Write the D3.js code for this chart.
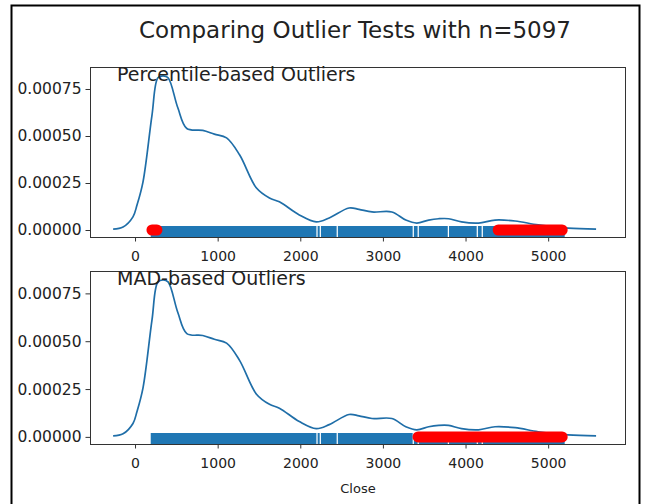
<!DOCTYPE html>
<html lang="en">
  <head>
    <meta charset="UTF-8" />
    <title>Comparing Outlier Tests</title>
    <script src="https://d3js.org/d3.v7.min.js"></script>
    <style>
      body { margin: 0; background: #fff; }
      text { font-family: "DejaVu Sans", sans-serif; fill: #222; }
    </style>
  </head>
  <body>
    <div id="chart"></div>
    <script>
      // KDE curve of "Close"
      const kdeClose = [-265, -145, -25, 24, 96, 205, 277, 340, 400, 518, 627, 820, 960, 1108, 1265, 1470, 1627, 1747, 1988, 2193, 2350, 2590, 2710, 2868, 3108, 3277, 3410, 3554, 3675, 3795, 3952, 4157, 4357, 4600, 4880, 5240, 5580];
      const kdeDensity = [0.000005, 0.000016, 0.00007, 0.000133, 0.000255, 0.00061, 0.00081, 0.00082, 0.00081, 0.00065, 0.00054, 0.00053, 0.00051, 0.00049, 0.0004, 0.000223, 0.00017, 0.00015, 0.00008, 0.000043, 0.000064, 0.000117, 0.00011, 0.000096, 0.000096, 0.000053, 0.000037, 0.000053, 0.00006, 0.00006, 0.000043, 0.000037, 0.000053, 0.000048, 0.000027, 0.00001, 0.000005];

      // rug: stretches of "Close" that are densely covered by observations
      const rugRanges = [[190, 2195], [2210, 2235], [2250, 2440], [2455, 3360], [3375, 3420], [3435, 3785], [3800, 4135], [4150, 4195], [4210, 5200]];

      // outliers found by each test (value stretches)
      const percentileOutliers = [[205, 265], [4395, 5170]];
      const madOutliers = [[3425, 5170]];

      const xTicks = [0, 1000, 2000, 3000, 4000, 5000];
      const yTicks = [0, 0.00025, 0.0005, 0.00075];

      const width = 649;
      const height = 504;

      const svg = d3
        .select("#chart")
        .append("svg")
        .attr("width", width)
        .attr("height", height);

      svg.append("rect")
        .attr("x", 0).attr("y", 0)
        .attr("width", width).attr("height", height)
        .attr("fill", "#fff");

      // outer frame of the figure
      svg.append("rect")
        .attr("x", 11.5).attr("y", 5.5)
        .attr("width", 628).attr("height", 510)
        .attr("fill", "none")
        .attr("stroke", "#000")
        .attr("stroke-width", 2);

      svg.append("text")
        .attr("x", 355)
        .attr("y", 38)
        .attr("text-anchor", "middle")
        .style("font-size", "23px")
        .text("Comparing Outlier Tests with n=5097");

      const x = d3.scaleLinear().domain([-545, 5930]).range([90, 625]);
      const kdeData = kdeClose.map((c, i) => [c, kdeDensity[i]]);

      function drawPanel(top, bottom, title, outliers, showLabel) {
        const y = d3.scaleLinear().domain([-0.0000372, 0.000867]).range([bottom, top]);
        const g = svg.append("g");

        // kde line
        g.append("path")
          .datum(kdeData)
          .attr("fill", "none")
          .attr("stroke", "#1f6ea8")
          .attr("stroke-width", 1.7)
          .attr("d", d3.line().x((d) => x(d[0])).y((d) => y(d[1])).curve(d3.curveCatmullRom));

        // rug
        g.selectAll(".rug")
          .data(rugRanges)
          .enter()
          .append("rect")
          .attr("class", "rug")
          .attr("x", (d) => x(d[0]))
          .attr("width", (d) => x(d[1]) - x(d[0]))
          .attr("y", bottom - 11)
          .attr("height", 11)
          .attr("fill", "#1f77b4");

        // outlier markers (overlapping red dots)
        g.selectAll(".out")
          .data(outliers)
          .enter()
          .append("line")
          .attr("x1", (d) => x(d[0]))
          .attr("x2", (d) => x(d[1]))
          .attr("y1", y(0))
          .attr("y2", y(0))
          .attr("stroke", "#ff0000")
          .attr("stroke-width", 11)
          .attr("stroke-linecap", "round");

        // spines
        g.append("rect")
          .attr("x", 90.5).attr("y", top + 0.5)
          .attr("width", 535).attr("height", bottom - top)
          .attr("fill", "none")
          .attr("stroke", "#333")
          .attr("stroke-width", 1);

        const xAxis = g.append("g")
          .attr("transform", `translate(0,${bottom + 0.5})`)
          .call(d3.axisBottom(x).tickValues(xTicks).tickSize(4).tickPadding(10).tickFormat(d3.format("d")));
        const yAxis = g.append("g")
          .attr("transform", "translate(90.5,0)")
          .call(d3.axisLeft(y).tickValues(yTicks).tickSize(5).tickPadding(4).tickFormat(d3.format(".5f")));
        xAxis.selectAll("text").style("font-size", "14px");
        yAxis.selectAll("text").style("font-size", "15.5px");
        [xAxis, yAxis].forEach((a) => {
          a.select(".domain").remove();
          a.selectAll("line").attr("stroke", "#333");
          a.selectAll("text").style("font-family", "DejaVu Sans").attr("fill", "#222");
        });

        g.append("text")
          .attr("x", 117)
          .attr("y", top + 14)
          .style("font-size", "19px")
          .text(title);

        if (showLabel) {
          g.append("text")
            .attr("x", 358)
            .attr("y", bottom + 49)
            .attr("text-anchor", "middle")
            .style("font-size", "13px")
            .text("Close");
        }
      }

      drawPanel(67, 237, "Percentile-based Outliers", percentileOutliers, false);
      drawPanel(271, 444, "MAD-based Outliers", madOutliers, true);
    </script>
  </body>
</html>
